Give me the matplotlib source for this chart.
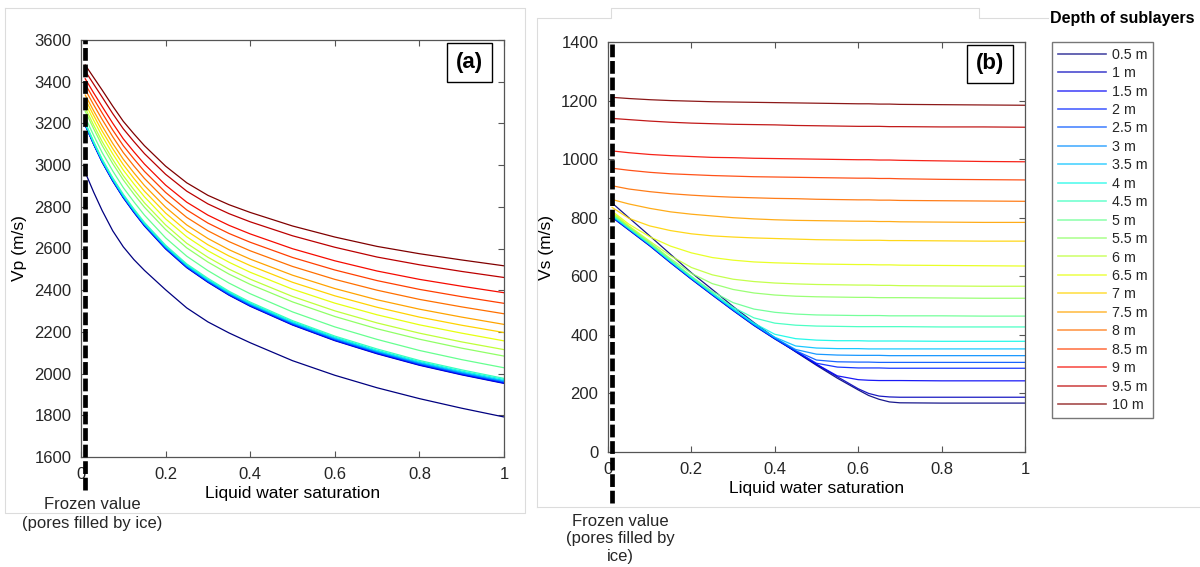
import numpy as np
import matplotlib.pyplot as plt
from matplotlib.lines import Line2D

plt.rcParams['font.family'] = ['Liberation Sans', 'DejaVu Sans']
plt.rcParams['text.color'] = '#262626'

depth_labels = ['0.5 m', '1 m', '1.5 m', '2 m', '2.5 m', '3 m', '3.5 m', '4 m', '4.5 m', '5 m',
                '5.5 m', '6 m', '6.5 m', '7 m', '7.5 m', '8 m', '8.5 m', '9 m', '9.5 m', '10 m']

# (a) P-wave velocity at these saturations
sat_a = [0.01, 0.03, 0.05, 0.075, 0.1, 0.125, 0.15, 0.2, 0.25, 0.3, 0.35, 0.4, 0.5, 0.6, 0.7, 0.8, 0.9, 1.0]
vp_0_5m = [2965, 2870, 2782, 2685, 2608, 2547, 2495, 2402, 2315, 2248, 2195, 2148, 2062, 1992, 1932, 1880, 1834, 1792]
vp_1m = [3191, 3099, 3014, 2923, 2843, 2773, 2708, 2598, 2508, 2438, 2376, 2323, 2233, 2158, 2095, 2040, 1994, 1953]
vp_1_5m = [3192, 3100, 3015, 2925, 2845, 2775, 2710, 2600, 2510, 2440, 2378, 2325, 2235, 2160, 2097, 2042, 1996, 1955]
vp_2m = [3193, 3102, 3017, 2927, 2847, 2777, 2712, 2602, 2512, 2442, 2380, 2327, 2237, 2162, 2100, 2045, 1999, 1958]
vp_2_5m = [3195, 3103, 3018, 2929, 2849, 2779, 2714, 2604, 2514, 2444, 2382, 2329, 2240, 2165, 2102, 2047, 2001, 1961]
vp_3m = [3196, 3105, 3020, 2930, 2850, 2781, 2716, 2606, 2516, 2446, 2384, 2332, 2242, 2167, 2105, 2050, 2004, 1963]
vp_3_5m = [3198, 3107, 3023, 2933, 2853, 2783, 2718, 2609, 2519, 2449, 2388, 2335, 2245, 2171, 2108, 2054, 2008, 1967]
vp_4m = [3201, 3110, 3025, 2936, 2856, 2786, 2721, 2612, 2522, 2452, 2391, 2338, 2249, 2175, 2112, 2058, 2012, 1972]
vp_4_5m = [3204, 3113, 3029, 2939, 2860, 2790, 2725, 2616, 2526, 2457, 2395, 2343, 2254, 2180, 2118, 2063, 2018, 1977]
vp_5m = [3229, 3142, 3060, 2972, 2892, 2824, 2760, 2651, 2563, 2494, 2434, 2383, 2296, 2224, 2164, 2111, 2067, 2028]
vp_5_5m = [3258, 3174, 3094, 3007, 2929, 2861, 2798, 2691, 2603, 2535, 2477, 2428, 2344, 2274, 2215, 2165, 2122, 2084]
vp_6m = [3274, 3191, 3113, 3027, 2949, 2882, 2819, 2713, 2625, 2558, 2501, 2453, 2370, 2301, 2243, 2194, 2152, 2115]
vp_6_5m = [3296, 3215, 3139, 3054, 2976, 2910, 2848, 2742, 2656, 2589, 2534, 2486, 2405, 2338, 2282, 2234, 2194, 2157]
vp_7m = [3316, 3238, 3163, 3079, 3002, 2936, 2875, 2770, 2684, 2618, 2564, 2518, 2438, 2373, 2318, 2271, 2232, 2197]
vp_7_5m = [3336, 3260, 3188, 3104, 3028, 2963, 2902, 2798, 2713, 2648, 2594, 2549, 2472, 2408, 2354, 2309, 2271, 2236]
vp_8m = [3362, 3289, 3219, 3136, 3060, 2996, 2936, 2833, 2749, 2685, 2633, 2589, 2514, 2452, 2400, 2356, 2320, 2287]
vp_8_5m = [3388, 3318, 3250, 3168, 3093, 3030, 2970, 2869, 2785, 2722, 2672, 2630, 2557, 2497, 2446, 2404, 2369, 2337]
vp_9m = [3414, 3346, 3281, 3201, 3126, 3064, 3005, 2904, 2822, 2760, 2711, 2670, 2599, 2541, 2492, 2452, 2419, 2388]
vp_9_5m = [3451, 3388, 3326, 3247, 3174, 3113, 3055, 2956, 2875, 2814, 2767, 2728, 2661, 2606, 2559, 2522, 2490, 2461]
vp_10m = [3480, 3420, 3360, 3283, 3210, 3150, 3093, 2995, 2915, 2855, 2810, 2773, 2708, 2655, 2610, 2575, 2545, 2517]

# (b) S-wave velocity
sat_b = [0.01, 0.05, 0.1, 0.15, 0.2, 0.25, 0.3, 0.35, 0.4, 0.45, 0.5, 0.55, 0.6, 0.625, 0.65, 0.675, 0.7,
         0.8, 0.9, 1.0]
vs_0_5m = [850, 800, 738, 675, 612, 555, 497, 442, 390, 342, 296, 252, 212, 193, 180, 171, 168, 167, 167, 167]
vs_1m = [801, 758, 704, 646, 590, 536, 483, 432, 386, 343, 299, 257, 216, 200, 191, 188, 187, 187, 187, 187]
vs_1_5m = [802, 759, 705, 647, 591, 537, 484, 433, 387, 344, 300, 260, 247, 245, 244, 244, 244, 243, 243, 243]
vs_2m = [803, 760, 706, 648, 592, 538, 485, 434, 388, 345, 303, 290, 287, 287, 287, 286, 286, 286, 286, 286]
vs_2_5m = [804, 761, 707, 649, 593, 539, 486, 435, 389, 346, 314, 308, 307, 307, 306, 306, 306, 306, 306, 306]
vs_3m = [805, 762, 708, 650, 594, 540, 487, 436, 390, 350, 334, 331, 330, 330, 330, 329, 329, 329, 329, 329]
vs_3_5m = [806, 763, 709, 651, 595, 541, 488, 437, 392, 362, 355, 353, 353, 352, 352, 352, 352, 352, 352, 352]
vs_4m = [808, 764, 710, 652, 596, 542, 490, 440, 402, 387, 382, 380, 380, 379, 379, 379, 379, 378, 378, 378]
vs_4_5m = [810, 766, 711, 654, 598, 544, 494, 458, 440, 433, 430, 429, 428, 428, 428, 428, 428, 427, 427, 427]
vs_5m = [812, 768, 713, 656, 600, 548, 510, 488, 477, 471, 468, 467, 466, 466, 466, 465, 465, 465, 464, 464]
vs_5_5m = [815, 770, 716, 660, 610, 575, 555, 543, 536, 532, 530, 529, 528, 528, 527, 527, 527, 526, 525, 525]
vs_6m = [818, 772, 720, 670, 630, 605, 590, 582, 577, 574, 572, 571, 570, 570, 569, 569, 568, 567, 566, 566]
vs_6_5m = [822, 778, 735, 703, 680, 664, 655, 649, 646, 644, 642, 641, 640, 640, 639, 639, 638, 637, 636, 635]
vs_7m = [835, 798, 772, 756, 745, 738, 734, 731, 729, 727, 725, 724, 723, 723, 723, 722, 722, 721, 720, 720]
vs_7_5m = [862, 847, 832, 820, 812, 806, 800, 796, 793, 791, 790, 789, 788, 788, 787, 787, 786, 785, 784, 784]
vs_8m = [909, 898, 889, 882, 877, 873, 870, 868, 866, 865, 863, 862, 861, 861, 860, 860, 859, 858, 857, 856]
vs_8_5m = [969, 962, 955, 950, 947, 944, 942, 940, 939, 938, 937, 936, 935, 935, 934, 934, 933, 931, 930, 929]
vs_9m = [1028, 1022, 1016, 1012, 1009, 1006, 1005, 1003, 1002, 1001, 1000, 999, 998, 998, 997, 997, 996, 994, 992, 991]
vs_9_5m = [1139, 1135, 1130, 1126, 1123, 1121, 1119, 1118, 1117, 1115, 1114, 1113, 1112, 1112, 1112, 1111, 1111, 1110, 1110, 1109]
vs_10m = [1211, 1207, 1203, 1200, 1198, 1196, 1195, 1194, 1193, 1192, 1191, 1190, 1189, 1189, 1188, 1188, 1187, 1186, 1185, 1184]

frozen_sat = 0.01

vp_curves = [vp_0_5m, vp_1m, vp_1_5m, vp_2m, vp_2_5m, vp_3m, vp_3_5m, vp_4m, vp_4_5m, vp_5m,
             vp_5_5m, vp_6m, vp_6_5m, vp_7m, vp_7_5m, vp_8m, vp_8_5m, vp_9m, vp_9_5m, vp_10m]
vs_curves = [vs_0_5m, vs_1m, vs_1_5m, vs_2m, vs_2_5m, vs_3m, vs_3_5m, vs_4m, vs_4_5m, vs_5m,
             vs_5_5m, vs_6m, vs_6_5m, vs_7m, vs_7_5m, vs_8m, vs_8_5m, vs_9m, vs_9_5m, vs_10m]
colors = plt.cm.jet(np.linspace(0, 1, len(depth_labels)))

W, H = 1200, 567
fig = plt.figure(figsize=(12, 5.67), dpi=100)

# faint frames from the original screenshot panels
gray = '#dcdcdc'
fig.add_artist(Line2D(np.array([5, 525, 525, 5, 5]) / W, 1 - np.array([8, 8, 513, 513, 8]) / H,
                      color=gray, lw=0.8))
fig.add_artist(Line2D(np.array([537, 537, 611, 611, 979, 979, 1048]) / W,
                      1 - np.array([507, 18, 18, 8, 8, 18, 18]) / H, color=gray, lw=0.8))
fig.add_artist(Line2D(np.array([537, 1200]) / W, 1 - np.array([507, 507]) / H, color=gray, lw=0.8))

axA = fig.add_axes([81 / W, 1 - 457 / H, 423 / W, 417 / H])
axB = fig.add_axes([608 / W, 1 - 452 / H, 417 / W, 410 / H])

for curve, c in zip(vp_curves, colors):
    axA.plot(sat_a, curve, color=c, lw=0.9, solid_joinstyle='round')
for curve, c in zip(vs_curves, colors):
    axB.plot(sat_b, curve, color=c, lw=0.9, alpha=0.9, solid_joinstyle='round')

axA.set_xlim(0, 1)
axA.set_ylim(1600, 3600)
axA.set_yticks(np.arange(1600, 3601, 200))
axB.set_xlim(0, 1)
axB.set_ylim(0, 1400)
axB.set_yticks(np.arange(0, 1401, 200))

xt = [0, 0.2, 0.4, 0.6, 0.8, 1]
for ax, ylab, low, tag in [(axA, 'Vp (m/s)', -0.079, '(a)'), (axB, 'Vs (m/s)', -0.124, '(b)')]:
    ax.set_xticks(xt)
    ax.set_xticklabels(['0', '0.2', '0.4', '0.6', '0.8', '1'])
    ax.tick_params(direction='in', top=True, right=True, length=4, width=0.8,
                   color='#555555', labelsize=12, labelcolor='#262626', pad=7)
    for sp in ax.spines.values():
        sp.set_color('#555555')
        sp.set_linewidth(0.9)
    ax.set_xlabel('Liquid water saturation', fontsize=12.5, labelpad=3)
    ax.set_ylabel(ylab, fontsize=12.5, labelpad=5)
    # frozen state marker, running below the axis
    ax.plot([frozen_sat, frozen_sat], [low, 1], transform=ax.get_xaxis_transform(),
            color='black', lw=3.4, ls=(0, (2.7, 0.8)), clip_on=False, zorder=5)
    ax.text(0.95, 0.972, tag, transform=ax.transAxes, ha='right', va='top',
            fontsize=16, fontweight='bold', color='black',
            bbox=dict(boxstyle='square,pad=0.4', fc='white', ec='black', lw=1))

fig.text(92 / W, 1 - 514 / H, 'Frozen value\n(pores filled by ice)', ha='center', va='center',
         fontsize=12, linespacing=1.3)
fig.text(620 / W, 1 - 539 / H, 'Frozen value\n(pores filled by\nice)', ha='center', va='center',
         fontsize=12, linespacing=1.2)

handles = [Line2D([], [], color=c, lw=1.2, alpha=0.7) for c in colors]
fig.legend(handles, depth_labels, loc='upper left', bbox_to_anchor=(1052 / W, 1 - 42 / H),
           fontsize=10.3, frameon=True, fancybox=False, edgecolor='#777777', framealpha=1,
           labelspacing=0.31, handlelength=3.4, handletextpad=0.4, borderpad=0.4,
           borderaxespad=0)
fig.text(1050 / W, 1 - 18 / H, 'Depth of sublayers', ha='left', va='center',
         fontsize=11.5, fontweight='bold', color='black')

fig.savefig('out.png', dpi=100)
